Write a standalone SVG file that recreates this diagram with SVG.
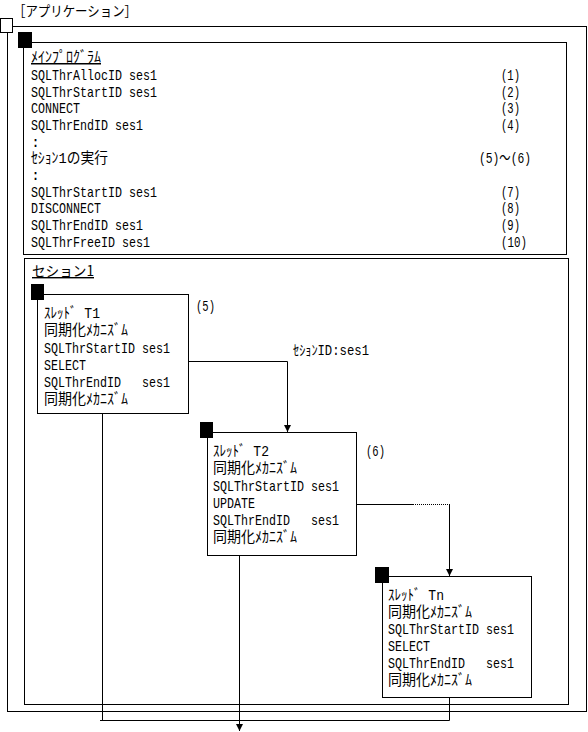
<svg xmlns="http://www.w3.org/2000/svg" width="588" height="732" viewBox="0 0 588 732">
<style>
.frame{fill:none;stroke:#000;stroke-width:1}
.sq{fill:#000}
.box{fill:#fff;stroke:#000;stroke-width:1}
.t{font-family:"Liberation Mono","Noto Sans CJK JP",monospace;font-size:15px;fill:#000;white-space:pre}
.j{font-family:"Noto Sans CJK JP",monospace;font-size:14px;fill:#000}
.u{text-decoration:underline}
.ln{fill:none;stroke:#000;stroke-width:1}
.dot{fill:none;stroke:#000;stroke-width:1;stroke-dasharray:1 1}
</style>
<defs>
<marker id="ah" viewBox="0 0 8 8" refX="8" refY="4" markerWidth="7" markerHeight="7" markerUnits="userSpaceOnUse" orient="auto">
<path d="M0,0 L8,4 L0,8 z" fill="#000"/>
</marker>
</defs>
<rect width="588" height="732" fill="#fff"/>

<g id="application">
<text class="j" x="13" y="16" textLength="124" lengthAdjust="spacingAndGlyphs">［アプリケーション］</text>
<rect class="frame" x="7.5" y="26.5" width="579" height="685"/>
<rect x="0.5" y="18.5" width="12" height="14" fill="#fff" stroke="#000"/>
</g>

<g id="main-program">
<rect class="frame" x="23.5" y="42.5" width="543" height="212"/>
<rect class="sq" x="18" y="32" width="14" height="16"/>
<text class="t u" x="31" y="62" textLength="70" lengthAdjust="spacingAndGlyphs">ﾒｲﾝﾌﾟﾛｸﾞﾗﾑ</text>
<text class="t" x="31" y="80" textLength="126" lengthAdjust="spacingAndGlyphs">SQLThrAllocID ses1</text>
<text class="t" x="31" y="97" textLength="126" lengthAdjust="spacingAndGlyphs">SQLThrStartID ses1</text>
<text class="t" x="31" y="113" textLength="49" lengthAdjust="spacingAndGlyphs">CONNECT</text>
<text class="t" x="31" y="130" textLength="112" lengthAdjust="spacingAndGlyphs">SQLThrEndID ses1</text>
<text class="t" x="31" y="147">:</text>
<text class="t" x="31" y="163" textLength="77" lengthAdjust="spacingAndGlyphs">ｾｼｮﾝ1の実行</text>
<text class="t" x="31" y="180">:</text>
<text class="t" x="31" y="197" textLength="126" lengthAdjust="spacingAndGlyphs">SQLThrStartID ses1</text>
<text class="t" x="31" y="213" textLength="70" lengthAdjust="spacingAndGlyphs">DISCONNECT</text>
<text class="t" x="31" y="230" textLength="112" lengthAdjust="spacingAndGlyphs">SQLThrEndID ses1</text>
<text class="t" x="31" y="247" textLength="119" lengthAdjust="spacingAndGlyphs">SQLThrFreeID ses1</text>
<text class="t" x="501" y="80" textLength="19" lengthAdjust="spacingAndGlyphs">(1)</text>
<text class="t" x="501" y="97" textLength="19" lengthAdjust="spacingAndGlyphs">(2)</text>
<text class="t" x="501" y="113" textLength="19" lengthAdjust="spacingAndGlyphs">(3)</text>
<text class="t" x="501" y="130" textLength="19" lengthAdjust="spacingAndGlyphs">(4)</text>
<text class="t" x="479" y="163" textLength="52" lengthAdjust="spacingAndGlyphs">(5)～(6)</text>
<text class="t" x="501" y="197" textLength="19" lengthAdjust="spacingAndGlyphs">(7)</text>
<text class="t" x="501" y="213" textLength="19" lengthAdjust="spacingAndGlyphs">(8)</text>
<text class="t" x="501" y="230" textLength="19" lengthAdjust="spacingAndGlyphs">(9)</text>
<text class="t" x="501" y="247" textLength="26" lengthAdjust="spacingAndGlyphs">(10)</text>
</g>

<g id="session1">
<rect class="frame" x="24.5" y="258.5" width="544" height="446"/>
<text class="j u" x="32" y="276" textLength="62" lengthAdjust="spacingAndGlyphs">セション1</text>
</g>

<g id="connectors">
<path class="ln" d="M188,361.5 H287.5 V432" marker-end="url(#ah)"/>
<path class="ln" d="M356,504.5 H413"/>
<path class="dot" d="M413,504.5 H449"/>
<path class="ln" d="M449.5,504 V576" marker-end="url(#ah)"/>
<path class="ln" d="M102.5,413 V720.5 M100,720.5 H449.5 V697"/>
<path class="ln" d="M239.5,555 V731" marker-end="url(#ah)"/>
<text class="t" x="293" y="355" style="font-size:14px" textLength="76" lengthAdjust="spacingAndGlyphs">ｾｼｮﾝID:ses1</text>
</g>

<g id="thread-t1">
<rect class="box" x="37.5" y="294.5" width="151" height="119"/>
<rect class="sq" x="31" y="284" width="13" height="16"/>
<text class="t" x="44" y="318" textLength="56" lengthAdjust="spacingAndGlyphs">ｽﾚｯﾄﾞ T1</text>
<text class="t" x="44" y="335" textLength="84" lengthAdjust="spacingAndGlyphs">同期化ﾒｶﾆｽﾞﾑ</text>
<text class="t" x="44" y="353" textLength="126" lengthAdjust="spacingAndGlyphs">SQLThrStartID ses1</text>
<text class="t" x="44" y="370" textLength="42" lengthAdjust="spacingAndGlyphs">SELECT</text>
<text class="t" x="44" y="387" textLength="126" lengthAdjust="spacingAndGlyphs" xml:space="preserve">SQLThrEndID   ses1</text>
<text class="t" x="44" y="404" textLength="84" lengthAdjust="spacingAndGlyphs">同期化ﾒｶﾆｽﾞﾑ</text>
<text class="t" x="196" y="311" textLength="19" lengthAdjust="spacingAndGlyphs">(5)</text>
</g>

<g id="thread-t2">
<rect class="box" x="207.5" y="432.5" width="149" height="123"/>
<rect class="sq" x="200" y="422" width="13" height="16"/>
<text class="t" x="213" y="456" textLength="56" lengthAdjust="spacingAndGlyphs">ｽﾚｯﾄﾞ T2</text>
<text class="t" x="213" y="473" textLength="84" lengthAdjust="spacingAndGlyphs">同期化ﾒｶﾆｽﾞﾑ</text>
<text class="t" x="213" y="491" textLength="126" lengthAdjust="spacingAndGlyphs">SQLThrStartID ses1</text>
<text class="t" x="213" y="508" textLength="42" lengthAdjust="spacingAndGlyphs">UPDATE</text>
<text class="t" x="213" y="525" textLength="126" lengthAdjust="spacingAndGlyphs" xml:space="preserve">SQLThrEndID   ses1</text>
<text class="t" x="213" y="542" textLength="84" lengthAdjust="spacingAndGlyphs">同期化ﾒｶﾆｽﾞﾑ</text>
<text class="t" x="366" y="456" textLength="19" lengthAdjust="spacingAndGlyphs">(6)</text>
</g>

<g id="thread-tn">
<rect class="box" x="382.5" y="576.5" width="149" height="121"/>
<rect class="sq" x="375" y="567" width="14" height="16"/>
<text class="t" x="388" y="600" textLength="56" lengthAdjust="spacingAndGlyphs">ｽﾚｯﾄﾞ Tn</text>
<text class="t" x="388" y="617" textLength="84" lengthAdjust="spacingAndGlyphs">同期化ﾒｶﾆｽﾞﾑ</text>
<text class="t" x="388" y="634" textLength="126" lengthAdjust="spacingAndGlyphs">SQLThrStartID ses1</text>
<text class="t" x="388" y="651" textLength="42" lengthAdjust="spacingAndGlyphs">SELECT</text>
<text class="t" x="388" y="668" textLength="126" lengthAdjust="spacingAndGlyphs" xml:space="preserve">SQLThrEndID   ses1</text>
<text class="t" x="388" y="685" textLength="84" lengthAdjust="spacingAndGlyphs">同期化ﾒｶﾆｽﾞﾑ</text>
</g>
</svg>
